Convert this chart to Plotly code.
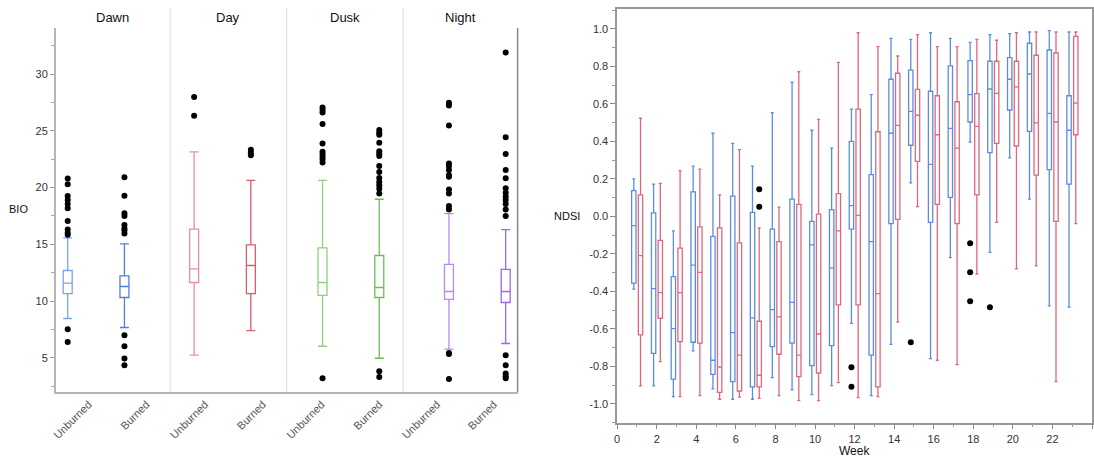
import numpy as np
import plotly.graph_objects as go

# ---------------- Left chart data (BIO) ----------------
groups = ["Dawn", "Day", "Dusk", "Night"]
treatments = ["Unburned", "Burned"]
bio_q1 = [10.67, 10.32, 11.64, 10.67, 10.50, 10.32, 10.15, 9.88]
bio_median = [11.58, 11.29, 12.84, 13.14, 11.64, 11.20, 10.85, 10.85]
bio_q3 = [12.70, 12.23, 16.34, 14.96, 14.69, 14.02, 13.23, 12.79]
bio_lower = [8.47, 7.68, 5.24, 7.41, 6.03, 4.97, 5.77, 6.27]
bio_upper = [15.57, 15.05, 23.15, 20.63, 20.63, 18.97, 17.70, 16.30]

dawn_unburned_out = [20.8, 20.3, 19.25, 18.9, 18.55, 18.17, 17.05, 16.3, 16.0, 15.85, 7.53, 6.41]
dawn_burned_out = [20.9, 19.28, 17.73, 17.49, 16.7, 16.4, 16.25, 15.96, 7.0, 6.03, 4.95, 4.36]
day_unburned_out = [27.97, 26.33]
day_burned_out = [23.33, 23.07, 22.84]
dusk_unburned_out = [27.06, 26.83, 26.6, 25.59, 23.89, 23.15, 22.95, 22.71, 22.48, 22.2, 3.21]
dusk_burned_out = [25.06, 24.83, 24.65, 23.95, 23.2, 22.97, 22.77, 21.9, 21.38, 20.84,
                   20.49, 20.2, 19.9, 19.48, 3.83, 3.33]
night_unburned_out = [27.47, 27.23, 25.47, 22.13, 21.9, 21.54, 21.1, 20.95, 19.84, 19.48,
                      18.37, 18.07, 5.44, 5.35, 3.15]
night_burned_out = [31.9, 24.42, 22.95, 21.54, 20.81, 19.93, 19.55, 19.2, 18.9, 18.55,
                    18.07, 17.49, 5.24, 4.36, 3.62, 3.39, 3.21]
bio_outliers = [dawn_unburned_out, dawn_burned_out, day_unburned_out, day_burned_out,
                dusk_unburned_out, dusk_burned_out, night_unburned_out, night_burned_out]
bio_ticks = [5, 10, 15, 20, 25, 30]

# ---------------- Right chart data (NDSI by week) ----------------
weeks = list(range(1, 24))
unb_upper = [0.200, 0.172, -0.077, 0.268, 0.444, 0.390, 0.268, 0.554, 0.716, 0.460, 0.364, 0.573,
             0.650, 0.950, 0.945, 0.980, 0.950, 0.929, 0.970, 0.975, 0.984, 0.991, 0.984]
unb_q3 = [0.138, 0.019, -0.321, 0.131, -0.106, 0.108, 0.022, -0.067, 0.092, -0.026, 0.036, 0.401,
          0.223, 0.732, 0.781, 0.668, 0.803, 0.831, 0.828, 0.847, 0.924, 0.888, 0.644]
unb_median = [-0.049, -0.385, -0.598, -0.259, -0.767, -0.620, -0.541, -0.497, -0.458, -0.152, -0.275, 0.058,
              -0.134, 0.444, 0.561, 0.278, 0.470, 0.650, 0.680, 0.732, 0.760, 0.550, 0.460]
unb_q1 = [-0.355, -0.730, -0.868, -0.671, -0.842, -0.881, -0.909, -0.694, -0.676, -0.796, -0.689, -0.067,
          -0.740, -0.038, 0.380, -0.031, 0.102, 0.504, 0.340, 0.568, 0.454, 0.250, 0.172]
unb_lower = [-0.388, -0.904, -0.961, -0.717, -0.920, -0.975, -0.975, -0.860, -0.925, -0.950, -0.902, -0.570,
             -0.956, -0.682, 0.179, -0.758, -0.220, 0.397, -0.191, 0.312, 0.092, -0.477, -0.484]

brn_upper = [0.524, 0.177, 0.244, 0.253, 0.115, 0.356, -0.061, 0.050, 0.772, 0.518, 0.822, 0.980,
             0.906, 0.856, 0.970, 0.906, 0.906, 0.945, 0.940, 0.980, 0.984, 0.984, 0.984]
brn_q3 = [0.115, -0.127, -0.169, -0.056, -0.061, -0.141, -0.559, -0.134, 0.065, 0.012, 0.122, 0.573,
          0.452, 0.764, 0.678, 0.644, 0.612, 0.655, 0.828, 0.828, 0.860, 0.872, 0.961]
brn_median = [-0.209, -0.406, -0.406, -0.298, -0.803, -0.740, -0.847, -0.536, -0.740, -0.627, -0.077, 0.006,
              -0.412, 0.486, 0.540, 0.436, 0.364, 0.481, 0.657, 0.691, 0.499, 0.504, 0.605]
brn_q1 = [-0.632, -0.543, -0.668, -0.676, -0.938, -0.931, -0.909, -0.735, -0.854, -0.835, -0.472, -0.472,
          -0.909, -0.015, 0.294, 0.065, -0.038, 0.115, 0.390, 0.376, 0.221, -0.026, 0.436]
brn_lower = [-0.904, -0.774, -0.961, -0.956, -0.975, -0.964, -0.970, -0.956, -0.982, -0.982, -0.886, -0.966,
             -0.961, -0.564, 0.052, -0.767, -0.790, -0.308, -0.031, -0.280, -0.264, -0.881, -0.038]

unb_out_week = [12, 12, 15, 18, 18, 18, 19]
unb_out_value = [-0.804, -0.908, -0.671, -0.143, -0.298, -0.452, -0.484]
brn_out_week = [7, 7]
brn_out_value = [0.145, 0.052]

ndsi_tickvals = [-1.0, -0.8, -0.6, -0.4, -0.2, 0.0, 0.2, 0.4, 0.6, 0.8, 1.0]
ndsi_ticktext = ["-1.0", "-0.8", "-0.6", "-0.4", "-0.2", "0.0", "0.2", "0.4", "0.6", "0.8", "1.0"]
week_ticks = list(range(0, 25, 2))

# ---------------- styling / layout constants ----------------
W, H = 1094, 458
FONT = "Liberation Sans, Arial, Helvetica, sans-serif"
box_colors = ["#7da5e6", "#4f80d8", "#e8909e", "#d95c6e", "#8ed27a", "#6cbf55", "#b48cf0", "#9d68e4"]
box_pos = [12, 69, 139, 196, 268, 325, 395, 452]          # left axis units (= px)
label_pos = [33, 91, 150, 208, 267, 325, 383, 440]
divider_pos = [115, 232, 349]
panel_centers = [109.5, 225.5, 342.5, 458.5]
BLUE = "#5a8de0"
RED = "#e0667a"
OFF_U, OFF_B = -0.16, 0.18

fig = go.Figure()

# Left chart boxes
for i in range(8):
    fig.add_trace(go.Box(
        x=[box_pos[i]], q1=[bio_q1[i]], median=[bio_median[i]], q3=[bio_q3[i]],
        lowerfence=[bio_lower[i]], upperfence=[bio_upper[i]],
        width=9, whiskerwidth=1, boxpoints=False,
        fillcolor="white", line=dict(color=box_colors[i], width=1.3),
        xaxis="x", yaxis="y", showlegend=False, hoverinfo="skip"))
    fig.add_trace(go.Scatter(
        x=[box_pos[i]] * len(bio_outliers[i]), y=bio_outliers[i], mode="markers",
        marker=dict(color="black", size=6), xaxis="x", yaxis="y",
        showlegend=False, hoverinfo="skip"))

# Right chart boxes
fig.add_trace(go.Box(
    x=[w + OFF_U for w in weeks], q1=unb_q1, median=unb_median, q3=unb_q3,
    lowerfence=unb_lower, upperfence=unb_upper, width=0.22, whiskerwidth=0.7,
    boxpoints=False, fillcolor="white", line=dict(color=BLUE, width=1.3),
    xaxis="x2", yaxis="y2", showlegend=False, hoverinfo="skip"))
fig.add_trace(go.Box(
    x=[w + OFF_B for w in weeks], q1=brn_q1, median=brn_median, q3=brn_q3,
    lowerfence=brn_lower, upperfence=brn_upper, width=0.22, whiskerwidth=0.7,
    boxpoints=False, fillcolor="white", line=dict(color=RED, width=1.3),
    xaxis="x2", yaxis="y2", showlegend=False, hoverinfo="skip"))
fig.add_trace(go.Scatter(
    x=[w + OFF_U for w in unb_out_week], y=unb_out_value, mode="markers",
    marker=dict(color="black", size=6), xaxis="x2", yaxis="y2", showlegend=False, hoverinfo="skip"))
fig.add_trace(go.Scatter(
    x=[w + OFF_B for w in brn_out_week], y=brn_out_value, mode="markers",
    marker=dict(color="black", size=6), xaxis="x2", yaxis="y2", showlegend=False, hoverinfo="skip"))

def py(p):  # pixel y -> paper
    return (H - p) / H

def px(p):
    return p / W

shapes = []
for d in divider_pos:
    shapes.append(dict(type="line", xref="x", yref="paper", x0=d, x1=d, y0=py(392), y1=py(8),
                       line=dict(color="#dcdcdc", width=1)))
shapes.append(dict(type="line", xref="paper", yref="paper", x0=px(516), x1=px(516), y0=py(392), y1=py(28),
                   line=dict(color="#8a8a8a", width=1.5)))

def label(text, x, y, size):
    return dict(text=text, x=px(x), y=py(y), xref="paper", yref="paper",
                xanchor="center", yanchor="middle", showarrow=False,
                font=dict(family=FONT, size=size, color="#111"))

annotations = [label(g, c, 18, 13) for g, c in zip(groups, panel_centers)]
annotations.append(label("BIO", 15, 209, 11))
annotations.append(label("NDSI", 566, 216, 11))
annotations.append(label("Week", 854, 451, 12))

tickfont = dict(family=FONT, size=11, color="#333")

fig.update_layout(
    width=W, height=H, margin=dict(l=0, r=0, t=0, b=0),
    paper_bgcolor="white", plot_bgcolor="white", showlegend=False,
    boxmode="overlay",
    font=dict(family=FONT),
    xaxis=dict(domain=[px(52), px(516)], range=[0, 464], showgrid=False, zeroline=False,
               tickmode="array", tickvals=label_pos, ticktext=treatments * 4,
               tickangle=-45, ticks="", showline=True, linecolor="#b5b5b5", linewidth=1.5,
               tickfont=dict(family=FONT, size=11, color="#555"), fixedrange=True),
    yaxis=dict(domain=[py(392), py(28)], range=[2, 34.05], showgrid=False, zeroline=False,
               tickmode="array", tickvals=bio_ticks, ticks="outside", ticklen=4,
               tickcolor="#999", showline=True, linecolor="#b5b5b5", linewidth=1.5,
               tickfont=tickfont,
               minor=dict(tickvals=list(np.arange(2.5, 34, 5.0)), ticks="outside", ticklen=3,
                          tickcolor="#aaa", showgrid=False)),
    xaxis2=dict(domain=[px(616), px(1093)], range=[0, 24], anchor="y2", showgrid=False,
                zeroline=False, tickmode="array", tickvals=week_ticks, ticks="outside",
                ticklen=5, tickcolor="#888", showline=True, mirror=True, linecolor="#999",
                linewidth=1.5, tickfont=tickfont,
                minor=dict(tickvals=list(range(1, 24, 2)), ticks="outside", ticklen=3,
                           tickcolor="#999", showgrid=False)),
    yaxis2=dict(domain=[py(422.7), py(9.3)], range=[-1.1, 1.105], anchor="x2", showgrid=False,
                zeroline=False, tickmode="array", tickvals=ndsi_tickvals, ticktext=ndsi_ticktext,
                ticks="outside", ticklen=5, tickcolor="#888", showline=True, mirror=True,
                linecolor="#999", linewidth=1.5, tickfont=tickfont,
                minor=dict(tickvals=list(np.round(np.arange(-1.1, 1.11, 0.2), 2)), ticks="outside",
                           ticklen=3, tickcolor="#999", showgrid=False)),
    shapes=shapes, annotations=annotations,
)

fig.write_html("out.html")
